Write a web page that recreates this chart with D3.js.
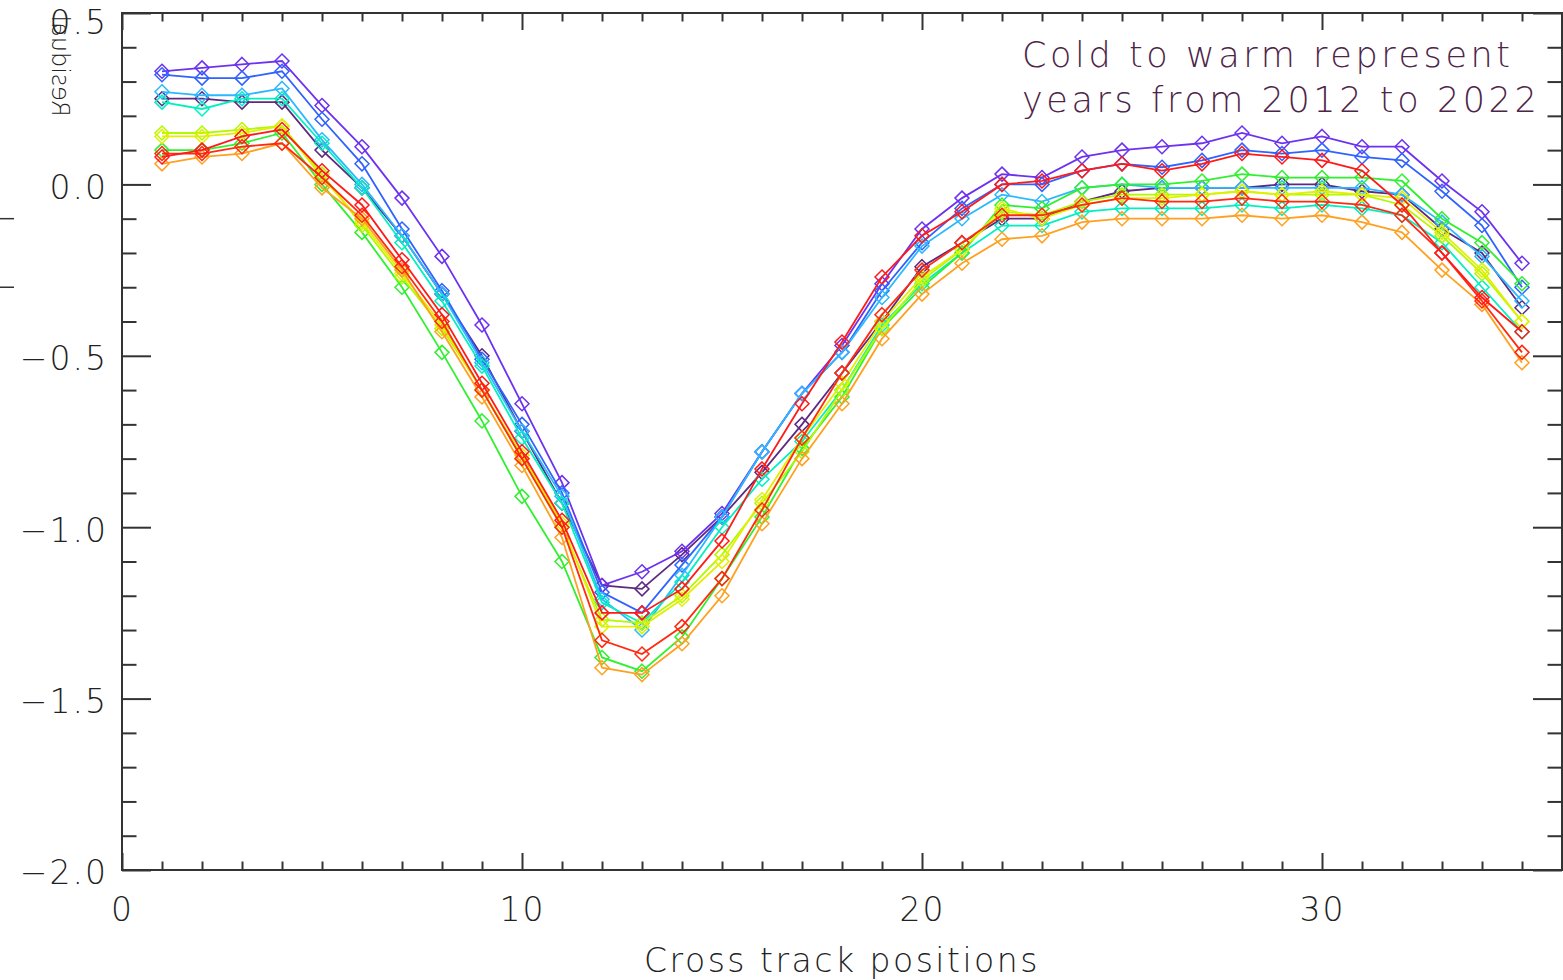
<!DOCTYPE html>
<html>
<head>
<meta charset="utf-8">
<script src="https://cdn.jsdelivr.net/npm/d3@7"></script>
<style>
  html, body { margin: 0; padding: 0; background: #fff; }
  svg text { font-family: "DejaVu Sans", sans-serif; font-weight: 200; }
</style>
</head>
<body>
<svg id="chart"></svg>
<script>
// cross track positions 1..35
const positions = d3.range(1, 36);

// one residual series per year, cold (2012) to warm (2022)
const years = [2012, 2013, 2014, 2015, 2016, 2017, 2018, 2019, 2020, 2021, 2022];
const colors = ['#5e2a80', '#6c32f0', '#2f62ff', '#2cb8ff', '#00f0c0', '#30f030',
                '#b4f800', '#e2f000', '#ffa020', '#ff2a10', '#ff1a1a'];

const r2012 = [0.25,0.25,0.24,0.24,0.10,-0.01,-0.15,-0.32,-0.50,-0.72,-0.93,-1.17,-1.18,-1.08,-0.97,-0.84,-0.70,-0.55,-0.40,-0.24,
               -0.17,-0.10,-0.10,-0.05,-0.02,-0.01,-0.01,-0.01,0.00,0.00,-0.02,-0.03,-0.13,-0.20,-0.36];
const r2013 = [0.33,0.34,0.35,0.36,0.23,0.11,-0.04,-0.21,-0.41,-0.64,-0.87,-1.17,-1.13,-1.07,-0.96,-0.78,-0.61,-0.47,-0.29,-0.13,
               -0.04,0.03,0.02,0.08,0.10,0.11,0.12,0.15,0.12,0.14,0.11,0.11,0.01,-0.08,-0.23];
const r2014 = [0.32,0.31,0.31,0.33,0.19,0.06,-0.13,-0.31,-0.51,-0.70,-0.90,-1.19,-1.25,-1.11,-0.97,-0.78,-0.61,-0.49,-0.31,-0.17,
               -0.07,0.00,0.00,0.04,0.06,0.05,0.07,0.10,0.09,0.10,0.08,0.07,-0.02,-0.12,-0.30];
const r2015 = [0.27,0.26,0.26,0.28,0.13,0.00,-0.15,-0.32,-0.52,-0.72,-0.91,-1.21,-1.30,-1.14,-0.97,-0.78,-0.61,-0.49,-0.33,-0.18,
               -0.10,-0.03,-0.05,-0.01,0.00,-0.01,-0.01,-0.01,-0.01,-0.01,-0.01,-0.03,-0.11,-0.21,-0.34];
const r2016 = [0.24,0.22,0.25,0.25,0.12,-0.01,-0.17,-0.34,-0.53,-0.74,-0.93,-1.22,-1.28,-1.16,-1.00,-0.86,-0.75,-0.60,-0.41,-0.29,
               -0.20,-0.12,-0.12,-0.08,-0.07,-0.07,-0.07,-0.06,-0.07,-0.06,-0.07,-0.09,-0.17,-0.30,-0.43];
const r2017 = [0.10,0.10,0.12,0.15,0.00,-0.14,-0.30,-0.49,-0.69,-0.91,-1.10,-1.38,-1.42,-1.32,-1.15,-0.97,-0.77,-0.62,-0.42,-0.30,
               -0.20,-0.06,-0.07,-0.01,0.00,0.00,0.01,0.03,0.02,0.02,0.02,0.01,-0.10,-0.17,-0.29];
const r2018 = [0.15,0.15,0.16,0.17,0.03,-0.12,-0.27,-0.42,-0.60,-0.80,-1.00,-1.27,-1.28,-1.20,-1.08,-0.93,-0.78,-0.60,-0.42,-0.28,
               -0.19,-0.08,-0.09,-0.05,-0.03,-0.03,-0.03,-0.02,-0.03,-0.03,-0.03,-0.06,-0.15,-0.26,-0.40];
const r2019 = [0.14,0.14,0.15,0.17,0.02,-0.11,-0.26,-0.41,-0.60,-0.79,-0.99,-1.29,-1.29,-1.21,-1.10,-0.92,-0.74,-0.58,-0.40,-0.27,
               -0.19,-0.07,-0.10,-0.06,-0.04,-0.04,-0.03,-0.02,-0.03,-0.02,-0.03,-0.04,-0.14,-0.25,-0.40];
const r2020 = [0.06,0.08,0.09,0.12,-0.01,-0.10,-0.25,-0.43,-0.62,-0.82,-1.03,-1.41,-1.43,-1.34,-1.20,-0.99,-0.80,-0.64,-0.45,-0.32,
               -0.23,-0.16,-0.15,-0.11,-0.10,-0.10,-0.10,-0.09,-0.10,-0.09,-0.11,-0.14,-0.25,-0.35,-0.52];
const r2021 = [0.09,0.09,0.11,0.12,0.02,-0.09,-0.24,-0.40,-0.60,-0.80,-1.00,-1.33,-1.37,-1.29,-1.15,-0.95,-0.74,-0.55,-0.38,-0.25,
               -0.17,-0.09,-0.09,-0.06,-0.04,-0.05,-0.05,-0.04,-0.05,-0.05,-0.06,-0.09,-0.20,-0.34,-0.49];
const r2022 = [0.08,0.10,0.14,0.16,0.04,-0.06,-0.22,-0.38,-0.58,-0.78,-0.98,-1.25,-1.25,-1.18,-1.04,-0.83,-0.64,-0.46,-0.27,-0.15,
               -0.08,0.00,0.01,0.04,0.06,0.04,0.06,0.09,0.08,0.07,0.04,-0.06,-0.20,-0.33,-0.43];
const residuals = [r2012, r2013, r2014, r2015, r2016, r2017, r2018, r2019, r2020, r2021, r2022];

const xMajor = [0, 10, 20, 30];
const yMajor = [-2.0, -1.5, -1.0, -0.5, 0.0, 0.5];
const xTitle = 'Cross track positions';
const yTitle = 'Residual';
const note = ['Cold to warm represent', 'years from 2012 to 2022'];

const width = 1563, height = 980;
const m = { left: 122, top: 13, right: 1562, bottom: 870 };

const svg = d3.select('#chart')
  .attr('width', width)
  .attr('height', height);

const x = d3.scaleLinear().domain([0, 36]).range([m.left, m.right]);
const y = d3.scaleLinear().domain([-2, 0.5]).range([m.bottom, m.top]);

const ink = '#333';
const fmtY = d => d3.format('.1f')(d).replace('-', '\u2212');

// frame
svg.append('rect')
  .attr('x', m.left).attr('y', m.top)
  .attr('width', m.right - m.left).attr('height', m.bottom - m.top)
  .attr('fill', 'none').attr('stroke', ink).attr('stroke-width', 2);

// IDL style ticks, inward on all four sides
const xMinor = d3.range(0, 37).filter(d => d % 10 !== 0);
const yMinor = d3.range(-20, 6).map(d => d / 10).filter(d => Math.round(d * 10) % 5 !== 0);

function styleAxis(g) {
  g.select('.domain').remove();
  g.selectAll('.tick line').attr('stroke', ink).attr('stroke-width', 2);
  g.selectAll('.tick text')
    .attr('fill', '#222')
    .style('font-size', '33px')
    .style('letter-spacing', '2px')
    .style('font-family', '"DejaVu Sans", sans-serif')
    .style('font-weight', 200);
}

svg.append('g').attr('transform', `translate(0,${m.bottom})`)
  .call(d3.axisBottom(x).tickValues(xMajor).tickSize(-17).tickPadding(28).tickFormat(d3.format('d')))
  .call(styleAxis);
svg.append('g').attr('transform', `translate(0,${m.bottom})`)
  .call(d3.axisBottom(x).tickValues(xMinor).tickSize(-8.5).tickFormat(''))
  .call(styleAxis);
svg.append('g').attr('transform', `translate(0,${m.top})`)
  .call(d3.axisTop(x).tickValues(xMajor).tickSize(-17).tickFormat(''))
  .call(styleAxis);
svg.append('g').attr('transform', `translate(0,${m.top})`)
  .call(d3.axisTop(x).tickValues(xMinor).tickSize(-8.5).tickFormat(''))
  .call(styleAxis);

const yAxis = svg.append('g').attr('transform', `translate(${m.left},0)`)
  .call(d3.axisLeft(y).tickValues(yMajor).tickSize(-29).tickPadding(14).tickFormat(fmtY))
  .call(styleAxis);
// labels sit a little below their ticks, the top one kept inside the page
yAxis.selectAll('.tick text')
  .attr('dy', d => d === 0.5 ? '0.62em' : '0.42em');

svg.append('g').attr('transform', `translate(${m.left},0)`)
  .call(d3.axisLeft(y).tickValues(yMinor).tickSize(-14.5).tickFormat(''))
  .call(styleAxis);
svg.append('g').attr('transform', `translate(${m.right},0)`)
  .call(d3.axisRight(y).tickValues(yMajor).tickSize(-29).tickFormat(''))
  .call(styleAxis);
svg.append('g').attr('transform', `translate(${m.right},0)`)
  .call(d3.axisRight(y).tickValues(yMinor).tickSize(-14.5).tickFormat(''))
  .call(styleAxis);

// stray marks left of the axis
svg.append('g').selectAll('line')
  .data([-0.1, -0.3])
  .enter().append('line')
  .attr('x1', 0).attr('x2', 14)
  .attr('y1', d => y(d)).attr('y2', d => y(d))
  .attr('stroke', ink).attr('stroke-width', 1.5);

// titles
svg.append('text')
  .attr('x', x(18)).attr('y', 972)
  .attr('text-anchor', 'middle')
  .attr('fill', '#222')
  .style('font-size', '33px')
  .style('letter-spacing', '2.5px')
  .text(xTitle);

svg.append('text')
  .attr('transform', 'translate(60,66) rotate(-90) scale(1,-1)')
  .attr('text-anchor', 'middle')
  .attr('dy', '0.35em')
  .attr('fill', '#222')
  .style('font-size', '24px')
  .text(yTitle);

// series
const line = d3.line()
  .x((d, i) => x(positions[i]))
  .y(d => y(d));

const series = svg.append('g')
  .selectAll('g')
  .data(residuals)
  .enter().append('g')
  .attr('stroke', (d, i) => colors[i])
  .attr('fill', 'none');

series.append('path')
  .attr('d', line)
  .attr('stroke-width', 1.8);

const diamond = 'M0,-7L7,0L0,7L-7,0Z';
series.selectAll('path.marker')
  .data(d => d)
  .enter().append('path')
  .attr('class', 'marker')
  .attr('d', diamond)
  .attr('stroke-width', 1.5)
  .attr('transform', (d, i) => `translate(${x(positions[i])},${y(d)})`);

// note
svg.append('g')
  .selectAll('text')
  .data(note)
  .enter().append('text')
  .attr('x', 1022)
  .attr('y', (d, i) => 67 + i * 45)
  .attr('fill', '#4e2548')
  .style('font-size', '35px')
  .style('letter-spacing', '3.6px')
  .text(d => d);
</script>
</body>
</html>
